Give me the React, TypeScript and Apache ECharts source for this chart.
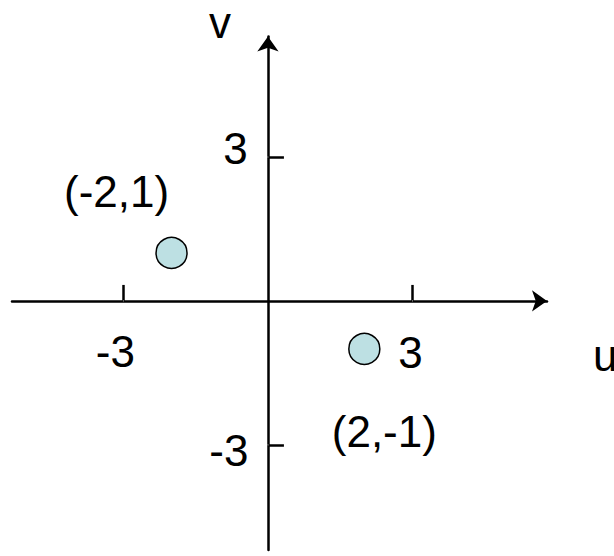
import React, { useEffect, useRef } from "react";
import * as echarts from "echarts";

const pointsU = [-2, 2];
const pointsV = [1, -1];
const pointLabels = ["(-2,1)", "(2,-1)"];
const tickValues = [-3, 3];
const tickLabels = ["-3", "3"];
const axisNames = ["u", "v"];

const FONT = "'Liberation Sans', Arial, sans-serif";

export default function App() {
  const ref = useRef<HTMLDivElement>(null);
  useEffect(() => {
    if (!ref.current) return;
    const chart = echarts.init(ref.current, undefined, { renderer: "svg" });
    const textLabel = {
      show: true,
      position: "inside",
      color: "#000",
      opacity: 1,
      textBorderWidth: 0,
      fontSize: 44,
      fontFamily: FONT,
    };
    const labelOffsets = [
      [-55, -61],
      [20, 83],
    ];
    const data = pointsU.map((u, i) => ({
      value: [u, pointsV[i]],
      label: { ...textLabel, formatter: pointLabels[i], offset: labelOffsets[i] },
    }));
    const xTickOffsets = [
      [-8, 51],
      [-2, 52],
    ];
    const yTickOffsets = [
      [-39, 6],
      [-32.5, -8.5],
    ];
    const xTickData = tickValues.map((t, i) => ({
      value: [t, 0],
      label: { ...textLabel, formatter: tickLabels[i], offset: xTickOffsets[i] },
    }));
    const yTickData = tickValues.map((t, i) => ({
      value: [0, t],
      label: { ...textLabel, formatter: tickLabels[i], offset: yTickOffsets[i] },
    }));
    const axisCommon = {
      type: "value",
      splitLine: { show: false },
      axisLabel: { show: false },
      axisLine: {
        show: true,
        onZero: true,
        symbol: ["none", "arrow"],
        symbolSize: [16, 15],
        lineStyle: { color: "#000", width: 2.5 },
      },
      axisTick: {
        show: true,
        inside: true,
        length: 16,
        customValues: tickValues,
        lineStyle: { color: "#000", width: 2.5 },
      },
    };
    const hiddenMark = {
      type: "scatter",
      symbol: "circle",
      symbolSize: 1,
      silent: true,
      itemStyle: { color: "#ffffff", borderWidth: 0 },
      label: textLabel,
      z: 1,
    };
    chart.setOption({
      animation: false,
      backgroundColor: "#fff",
      textStyle: { fontFamily: FONT },
      grid: {
        left: 12,
        right: 67,
        top: 36.5,
        bottom: 6,
        containLabel: false,
        outerBoundsMode: "none",
      },
      xAxis: { ...axisCommon, min: -5.31, max: 5.79 },
      yAxis: { ...axisCommon, min: -5.19, max: 5.51 },
      graphic: [
        {
          type: "text",
          left: 593,
          top: 333,
          style: { text: axisNames[0], fontSize: 44, fontFamily: FONT, fill: "#000" },
        },
        {
          type: "text",
          left: 209,
          top: 0,
          style: { text: axisNames[1], fontSize: 44, fontFamily: FONT, fill: "#000" },
        },
      ],
      series: [
        {
          type: "scatter",
          symbol: "circle",
          symbolSize: 31,
          itemStyle: { color: "#BDE0E3", borderColor: "#000", borderWidth: 1.5, opacity: 1 },
          label: textLabel,
          data,
          z: 3,
        },
        { ...hiddenMark, data: xTickData },
        { ...hiddenMark, data: yTickData },
      ],
    });
    return () => chart.dispose();
  }, []);
  return (
    <div
      ref={ref}
      style={{ position: "fixed", left: 0, top: 0, width: 614, height: 556 }}
    />
  );
}
